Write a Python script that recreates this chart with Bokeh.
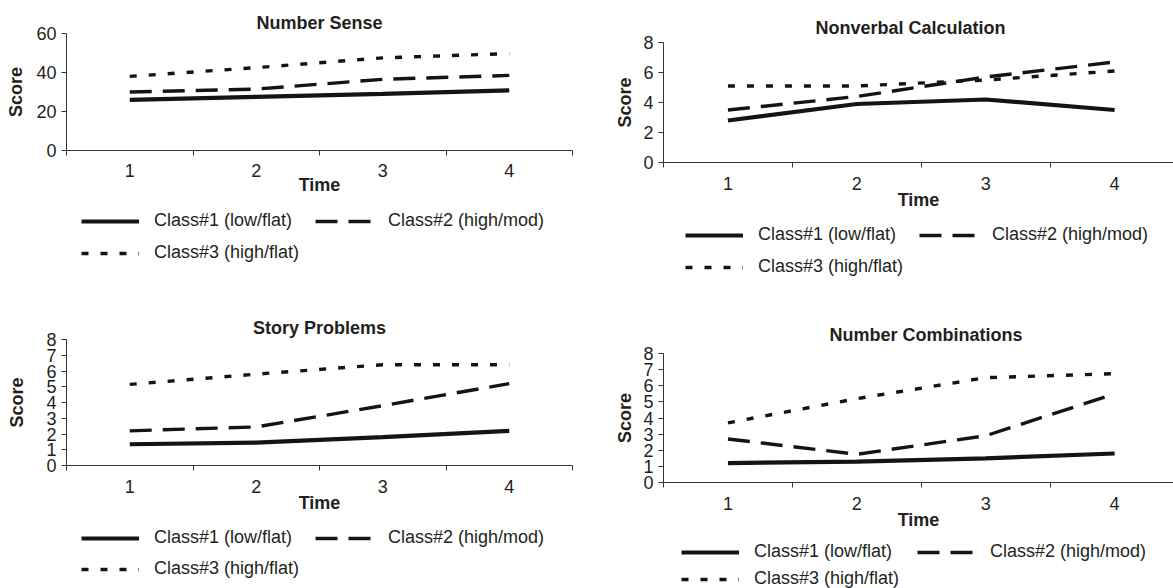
from bokeh.plotting import figure
from bokeh.models import Range1d, FixedTicker, Legend, LegendItem
from bokeh.layouts import column, row
from bokeh.embed import file_html
from bokeh.resources import INLINE

# ---------------- data ----------------
times = [1, 2, 3, 4]
time_labels = ["1", "2", "3", "4"]
class_names = ["Class#1 (low/flat)", "Class#2 (high/mod)", "Class#3 (high/flat)"]

ns_class1 = [26, 27.5, 29, 30.8]
ns_class2 = [30, 31.5, 36.5, 38.5]
ns_class3 = [38, 42.5, 47.5, 49.7]
ns_ticks = [0, 20, 40, 60]

nvc_class1 = [2.8, 3.9, 4.2, 3.5]
nvc_class2 = [3.5, 4.4, 5.7, 6.7]
nvc_class3 = [5.1, 5.1, 5.5, 6.1]
nvc_ticks = [0, 2, 4, 6, 8]

sp_class1 = [1.35, 1.45, 1.8, 2.2]
sp_class2 = [2.2, 2.45, 3.8, 5.2]
sp_class3 = [5.15, 5.8, 6.4, 6.4]
sp_ticks = [0, 1, 2, 3, 4, 5, 6, 7, 8]

ncb_class1 = [1.2, 1.3, 1.5, 1.8]
ncb_class2 = [2.7, 1.75, 2.9, 5.5]
ncb_class3 = [3.7, 5.2, 6.5, 6.75]
ncb_ticks = [0, 1, 2, 3, 4, 5, 6, 7, 8]

FONT = "Liberation Sans"
TXT = "#231f20"
LINE = "#141414"
FS = "18px"

STYLES = [dict(line_color=LINE, line_width=4.2),
          dict(line_color=LINE, line_width=3.4, line_dash="22 11"),
          dict(line_color=LINE, line_width=3.4, line_dash="7 12")]


def chart(title, series, yticks, width, height, bl, br, bt, bb, xend,
          title_standoff, title_align, title_offset, ylab_standoff,
          tick_standoff, xlab_standoff):
    p = figure(width=width, height=height,
               x_range=Range1d(0.5, xend), y_range=Range1d(0, yticks[-1]),
               output_backend="svg", toolbar_location=None,
               min_border_left=bl, min_border_right=br,
               min_border_top=bt, min_border_bottom=bb)
    p.outline_line_color = None
    p.xgrid.visible = False
    p.ygrid.visible = False

    p.title.text = title
    p.title.align = title_align
    p.title.text_font = FONT
    p.title.text_font_size = FS
    p.title.text_font_style = "bold"
    p.title.text_color = TXT
    p.title.standoff = title_standoff
    p.title.offset = title_offset

    for vals, st in zip(series, STYLES):
        p.line(times, vals, **st)

    xa = p.xaxis[0]
    xa.ticker = FixedTicker(ticks=times, minor_ticks=[0.5, 1.5, 2.5, 3.5, 4.5])
    xa.major_label_overrides = {t: l for t, l in zip(times, time_labels)}
    xa.major_tick_in = 0
    xa.major_tick_out = 0
    xa.minor_tick_in = 0
    xa.minor_tick_out = 5
    xa.axis_line_color = "#333333"
    xa.minor_tick_line_color = "#333333"
    xa.major_label_text_font = FONT
    xa.major_label_text_font_size = FS
    xa.major_label_text_color = TXT
    xa.major_label_standoff = tick_standoff
    xa.axis_label = "Time"
    xa.axis_label_text_font = FONT
    xa.axis_label_text_font_size = FS
    xa.axis_label_text_font_style = "bold"
    xa.axis_label_text_color = TXT
    xa.axis_label_standoff = xlab_standoff

    ya = p.yaxis[0]
    ya.ticker = FixedTicker(ticks=yticks, minor_ticks=[])
    ya.major_tick_in = 0
    ya.major_tick_out = 5
    ya.minor_tick_out = 0
    ya.axis_line_color = "#333333"
    ya.major_tick_line_color = "#333333"
    ya.major_label_text_font = FONT
    ya.major_label_text_font_size = FS
    ya.major_label_text_color = TXT
    ya.major_label_standoff = 5
    ya.axis_label = "Score"
    ya.axis_label_text_font = FONT
    ya.axis_label_text_font_size = FS
    ya.axis_label_text_font_style = "bold"
    ya.axis_label_text_color = TXT
    ya.axis_label_standoff = ylab_standoff
    return p


def legend_fig(series, width, height, bl, vx, vy1, vy2, spacing):
    # legend-only strip: its range lies away from the data, so the
    # proxy lines are clipped and only the legend samples show
    f = figure(width=width, height=height,
               x_range=Range1d(-10, -9), y_range=Range1d(-10, -9),
               output_backend="svg", toolbar_location=None,
               x_axis_location=None, y_axis_location=None,
               min_border_left=bl, min_border_right=0,
               min_border_top=0, min_border_bottom=0)
    f.outline_line_color = None
    f.xgrid.visible = False
    f.ygrid.visible = False
    rs = [f.line(times, vals, **st) for vals, st in zip(series, STYLES)]

    def mk(items, loc):
        return Legend(items=items, location=loc, orientation="horizontal",
                      padding=0, margin=0, spacing=spacing,
                      glyph_width=58, glyph_height=20, label_standoff=15,
                      label_height=20,
                      label_text_font=FONT, label_text_font_size=FS,
                      label_text_color=TXT,
                      border_line_color=None, background_fill_alpha=0)

    f.add_layout(mk([LegendItem(label=class_names[0], renderers=[rs[0]]),
                     LegendItem(label=class_names[1], renderers=[rs[1]])],
                    (vx, vy1)), "center")
    f.add_layout(mk([LegendItem(label=class_names[2], renderers=[rs[2]])],
                    (vx, vy2)), "center")
    return f


LW, RW = 600, 573

ns = (ns_class1, ns_class2, ns_class3)
nvc = (nvc_class1, nvc_class2, nvc_class3)
sp = (sp_class1, sp_class2, sp_class3)
ncb = (ncb_class1, ncb_class2, ncb_class3)

p1 = chart("Number Sense", ns, ns_ticks, LW, 198, 66, 28, 33, 48, 4.5,
           title_standoff=1, title_align="center", title_offset=0,
           ylab_standoff=7, tick_standoff=8, xlab_standoff=-5)
l1 = legend_fig(ns, LW, 102, 66, 15, 69, 37, 23)

p2 = chart("Nonverbal Calculation", nvc, nvc_ticks, RW, 212, 63, 0, 42, 48, 4.457,
           title_standoff=9, title_align="left", title_offset=152,
           ylab_standoff=5, tick_standoff=9, xlab_standoff=-3)
l2 = legend_fig(nvc, RW, 88, 63, 22, 55, 23, 23)

p3 = chart("Story Problems", sp, sp_ticks, LW, 215, 65, 23, 39, 48, 4.5,
           title_standoff=3, title_align="center", title_offset=0,
           ylab_standoff=16, tick_standoff=9, xlab_standoff=-3)
l3 = legend_fig(sp, LW, 73, 65, 15, 40, 9, 23)

p4 = chart("Number Combinations", ncb, ncb_ticks, RW, 232, 63, 0, 53, 48, 4.457,
           title_standoff=17, title_align="left", title_offset=166,
           ylab_standoff=5, tick_standoff=9, xlab_standoff=-3)
l4 = legend_fig(ncb, RW, 56, 63, 18, 26, -1, 25)

layout = row(column(p1, l1, p3, l3, spacing=0),
             column(p2, l2, p4, l4, spacing=0), spacing=0)

open("out.html", "w").write(file_html(layout, INLINE))
